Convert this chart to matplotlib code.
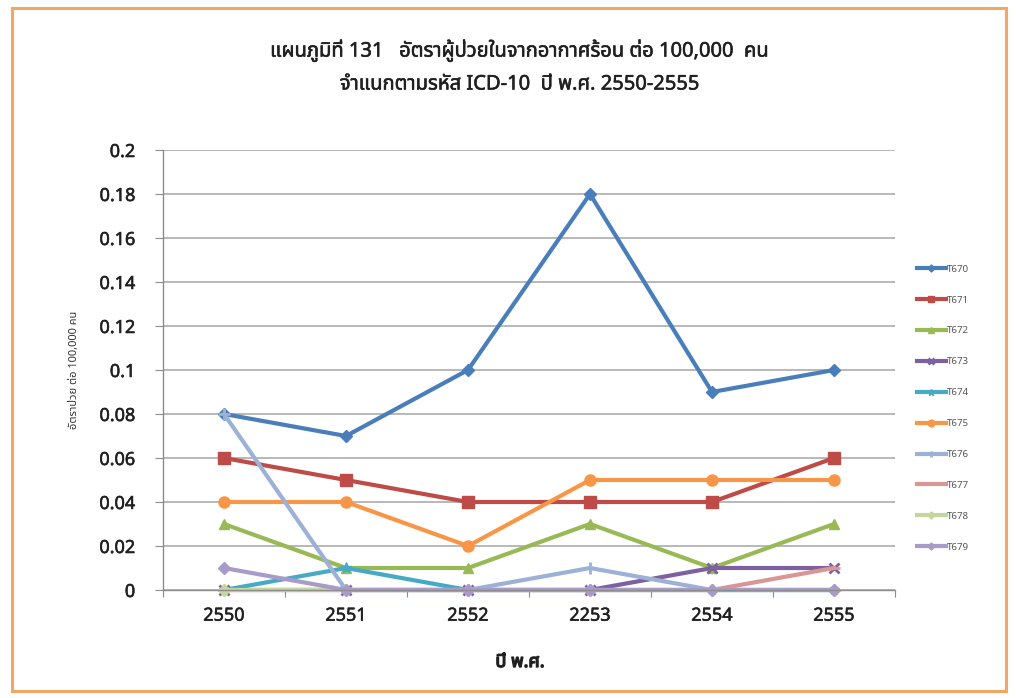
import matplotlib
matplotlib.use("Agg")
import matplotlib.pyplot as plt
from matplotlib import font_manager
from matplotlib.patches import Rectangle
import matplotlib.patheffects as pe
import numpy as np

# ---------------- data ----------------
years = ["2550", "2551", "2552", "2253", "2554", "2555"]
series_names = ["T670", "T671", "T672", "T673", "T674", "T675", "T676", "T677", "T678", "T679"]
T670 = [0.08, 0.07, 0.10, 0.18, 0.09, 0.10]
T671 = [0.06, 0.05, 0.04, 0.04, 0.04, 0.06]
T672 = [0.03, 0.01, 0.01, 0.03, 0.01, 0.03]
T673 = [0.00, 0.00, 0.00, 0.00, 0.01, 0.01]
T674 = [0.00, 0.01, 0.00, 0.00, 0.00, 0.00]
T675 = [0.04, 0.04, 0.02, 0.05, 0.05, 0.05]
T676 = [0.08, 0.00, 0.00, 0.01, 0.00, 0.00]
T677 = [0.00, 0.00, 0.00, 0.00, 0.00, 0.01]
T678 = [0.00, 0.00, 0.00, 0.00, 0.00, 0.00]
T679 = [0.01, 0.00, 0.00, 0.00, 0.00, 0.00]
series_values = [T670, T671, T672, T673, T674, T675, T676, T677, T678, T679]
y_ticks = [0, 0.02, 0.04, 0.06, 0.08, 0.1, 0.12, 0.14, 0.16, 0.18, 0.2]

title = "แผนภูมิที่ 131   อัตราผู้ป่วยในจากอากาศร้อน ต่อ 100,000  คน\nจำแนกตามรหัส ICD-10  ปี พ.ศ. 2550-2555"
x_label = "ปี พ.ศ."
y_label = "อัตราป่วย ต่อ 100,000 คน"

# ---------------- styles ----------------
colors = ["#4A7EBB", "#BE4B48", "#98B954", "#7D60A0", "#46AAC5",
          "#F79646", "#9DB1D6", "#D99694", "#C3D69B", "#A99BC9"]
markers = ["D", "s", "^", "x", "*", "o", "+", "_", "D", "D"]
msizes = [6, 8, 7, 7, 8, 8, 8, 8, 6, 6]

# ---------------- font with Thai glyphs ----------------
def find_thai_font():
    try:
        from fontTools.ttLib import TTFont
    except Exception:
        return None
    preferred = ["Tahoma", "Noto Sans Thai", "Loma", "Garuda", "Sarabun", "Kinnari", "Norasi"]
    found = {}
    for f in font_manager.fontManager.ttflist:
        try:
            tt = TTFont(f.fname, fontNumber=0, lazy=True)
            cmap = tt.getBestCmap()
            if cmap and 0x0E2D in cmap and 0x0E1B in cmap:
                found.setdefault(f.name, f.fname)
        except Exception:
            pass
    for p in preferred:
        if p in found:
            return p
    if found:
        return sorted(found)[0]
    return None

thai = find_thai_font()
fams = ([thai] if thai else []) + ["DejaVu Sans"]
plt.rcParams["font.family"] = fams

W, H = 1016, 698
fig = plt.figure(figsize=(W / 100, H / 100), dpi=100)
fig.patch.set_facecolor("white")

# orange frame
frame = Rectangle((12 / W, 7 / H), (W - 22) / W, (H - 15) / H,
                  transform=fig.transFigure, facecolor="none",
                  edgecolor="#F2A766", linewidth=2.2, zorder=-1)
fig.patches.append(frame)

ax = fig.add_axes([163 / W, (H - 590) / H, (895 - 163) / W, (590 - 150) / H])
ax.set_facecolor("none")

x = np.arange(len(years))
for name, vals, c, m, ms in zip(series_names, series_values, colors, markers, msizes):
    mew = 2 if m in ("x", "+", "_") else 1
    ax.plot(x, vals, color=c, lw=3, marker=m, markersize=ms,
            markeredgewidth=mew, markeredgecolor=c, markerfacecolor=c,
            label=name, solid_joinstyle="round", clip_on=False)

ax.set_xlim(-0.5, len(years) - 0.5)
ax.set_ylim(0, 0.2)
ax.set_yticks(y_ticks)
ax.set_yticklabels(["%g" % v for v in y_ticks])
ax.yaxis.grid(True, color="#ABABAB", lw=1.2)
ax.set_axisbelow(True)

ax.set_xticks(np.arange(-0.5, len(years)), minor=False)
ax.set_xticklabels([])
ax.set_xticks(x, minor=True)
ax.set_xticklabels(years, minor=True)
ax.tick_params(axis="x", which="major", length=5, color="#8C8C8C", direction="out")
ax.tick_params(axis="x", which="minor", length=0, pad=12, labelsize=13, labelcolor="#202020")
ax.tick_params(axis="y", length=6, color="#8C8C8C", labelsize=13, labelcolor="#202020", pad=14)

semi_fx = [pe.withStroke(linewidth=0.4, foreground="#202020")]
for lab in ax.get_yticklabels() + ax.get_xticklabels(minor=True):
    lab.set_path_effects(semi_fx)

for s in ["top", "right"]:
    ax.spines[s].set_visible(False)
for s in ["left", "bottom"]:
    ax.spines[s].set_color("#8C8C8C")
    ax.spines[s].set_linewidth(1.0)

fig.text(520 / W, 1 - 67 / H, title, ha="center", va="center", fontsize=14.5,
         color="#202020", linespacing=1.85, path_effects=semi_fx)
fig.text(520 / W, 1 - 662 / H, x_label, ha="center", va="center", fontsize=13,
         fontweight="bold", color="#202020",
         path_effects=[pe.withStroke(linewidth=1.0, foreground="#202020")])
fig.text(75 / W, 1 - 370 / H, y_label, ha="center", va="center", fontsize=8,
         rotation=90, color="#303030")

leg = fig.legend(loc="upper left", bbox_to_anchor=(908 / W, 1 - 256 / H),
                 frameon=False, fontsize=7, labelspacing=2.25, handlelength=3.0,
                 handletextpad=0.15, markerscale=0.6, labelcolor="#555555")

fig.savefig("out.png", dpi=100, facecolor="white")
